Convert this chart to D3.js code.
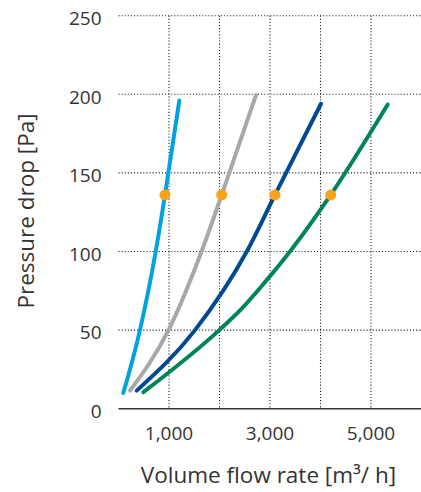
<!DOCTYPE html>
<html>
<head>
<meta charset="utf-8">
<script src="https://cdn.jsdelivr.net/npm/d3@7"></script>
<style>
  html, body { margin: 0; padding: 0; background: #fff; }
  svg { display: block; }
  text { font-family: "Open Sans", "Noto Sans", sans-serif; fill: #333; }
</style>
</head>
<body>
<svg id="chart" width="421" height="492"></svg>
<script>
// Pressure drop curves (flow in m³/h, pressure in Pa)
const lightBlueFlow = [95, 425, 737, 921, 1204];
const lightBluePressure = [10, 50, 100, 136, 196];

const grayFlow = [228, 990, 1645, 2044, 2723];
const grayPressure = [11.5, 50, 100, 136, 199.5];

const darkBlueFlow = [360, 1515, 2540, 3099, 4010];
const darkBluePressure = [11.5, 50, 100, 136, 194];

const greenFlow = [493, 1996, 2406, 2901, 3396, 4202, 5331];
const greenPressure = [10.5, 50, 62.5, 80.5, 100, 136, 193.5];

// Operating points
const pointFlow = [921, 2044, 3099, 4202];
const pointPressure = [136, 136, 136, 136];

const yTicks = [0, 50, 100, 150, 200, 250];
const xGrid = [1000, 2000, 3000, 4000, 5000];
const xTickLabels = [1000, 3000, 5000];

const seriesColors = ["#00a3e0", "#a7a8aa", "#004a93", "#00845a"];
const pointColor = "#f6a31c";

const svg = d3.select("#chart");

const x = d3.scaleLinear().domain([0, 6000]).range([118.5, 421.5]);
const y = d3.scaleLinear().domain([0, 250]).range([408.7, 15.7]);

// Grid: dotted lines
const grid = svg.append("g");
grid.selectAll("line.h").data(yTicks.filter(d => d > 0)).join("line")
  .attr("x1", x(0)).attr("x2", 421)
  .attr("y1", d => y(d)).attr("y2", d => y(d))
  .attr("stroke", "#222").attr("stroke-width", 1.1)
  .attr("stroke-dasharray", "1.1,2");
grid.selectAll("line.v").data(xGrid).join("line")
  .attr("x1", d => x(d)).attr("x2", d => x(d))
  .attr("y1", y(250)).attr("y2", y(0))
  .attr("stroke", "#222").attr("stroke-width", 1.1)
  .attr("stroke-dasharray", "1.1,2");

// X axis line
svg.append("line")
  .attr("x1", x(0)).attr("x2", 421)
  .attr("y1", y(0)).attr("y2", y(0))
  .attr("stroke", "#333").attr("stroke-width", 1.6);

// Y tick labels
svg.append("g").selectAll("text").data(yTicks).join("text")
  .attr("x", 101.5).attr("y", d => y(d) + 2.5)
  .attr("dy", "0.36em")
  .attr("text-anchor", "end")
  .attr("font-size", 19)
  .text(d => d);

// X tick labels
const fmt = d3.format(",");
svg.append("g").selectAll("text").data(xTickLabels).join("text")
  .attr("x", d => x(d)).attr("y", 433.5)
  .attr("dy", "0.36em")
  .attr("text-anchor", "middle")
  .attr("font-size", 19)
  .text(d => fmt(d));

// Axis titles
svg.append("text")
  .attr("x", 268.5).attr("y", 482.5)
  .attr("text-anchor", "middle")
  .attr("font-size", 22.5)
  .text("Volume flow rate [m³/ h]");

svg.append("text")
  .attr("transform", "translate(34,211) rotate(-90)")
  .attr("text-anchor", "middle")
  .attr("font-size", 22.5)
  .text("Pressure drop [Pa]");

// Curves
const series = [
  [lightBlueFlow, lightBluePressure],
  [grayFlow, grayPressure],
  [darkBlueFlow, darkBluePressure],
  [greenFlow, greenPressure]
];
const line = d3.line()
  .x(d => x(d[0])).y(d => y(d[1]))
  .curve(d3.curveMonotoneX);

svg.append("g").selectAll("path").data(series).join("path")
  .attr("d", s => line(d3.zip(s[0], s[1])))
  .attr("fill", "none")
  .attr("stroke", (s, i) => seriesColors[i])
  .attr("stroke-width", 4)
  .attr("stroke-linecap", "round");

// Operating points
svg.append("g").selectAll("circle").data(d3.zip(pointFlow, pointPressure)).join("circle")
  .attr("cx", d => x(d[0])).attr("cy", d => y(d[1]))
  .attr("r", 5.5)
  .attr("fill", pointColor);
</script>
</body>
</html>
